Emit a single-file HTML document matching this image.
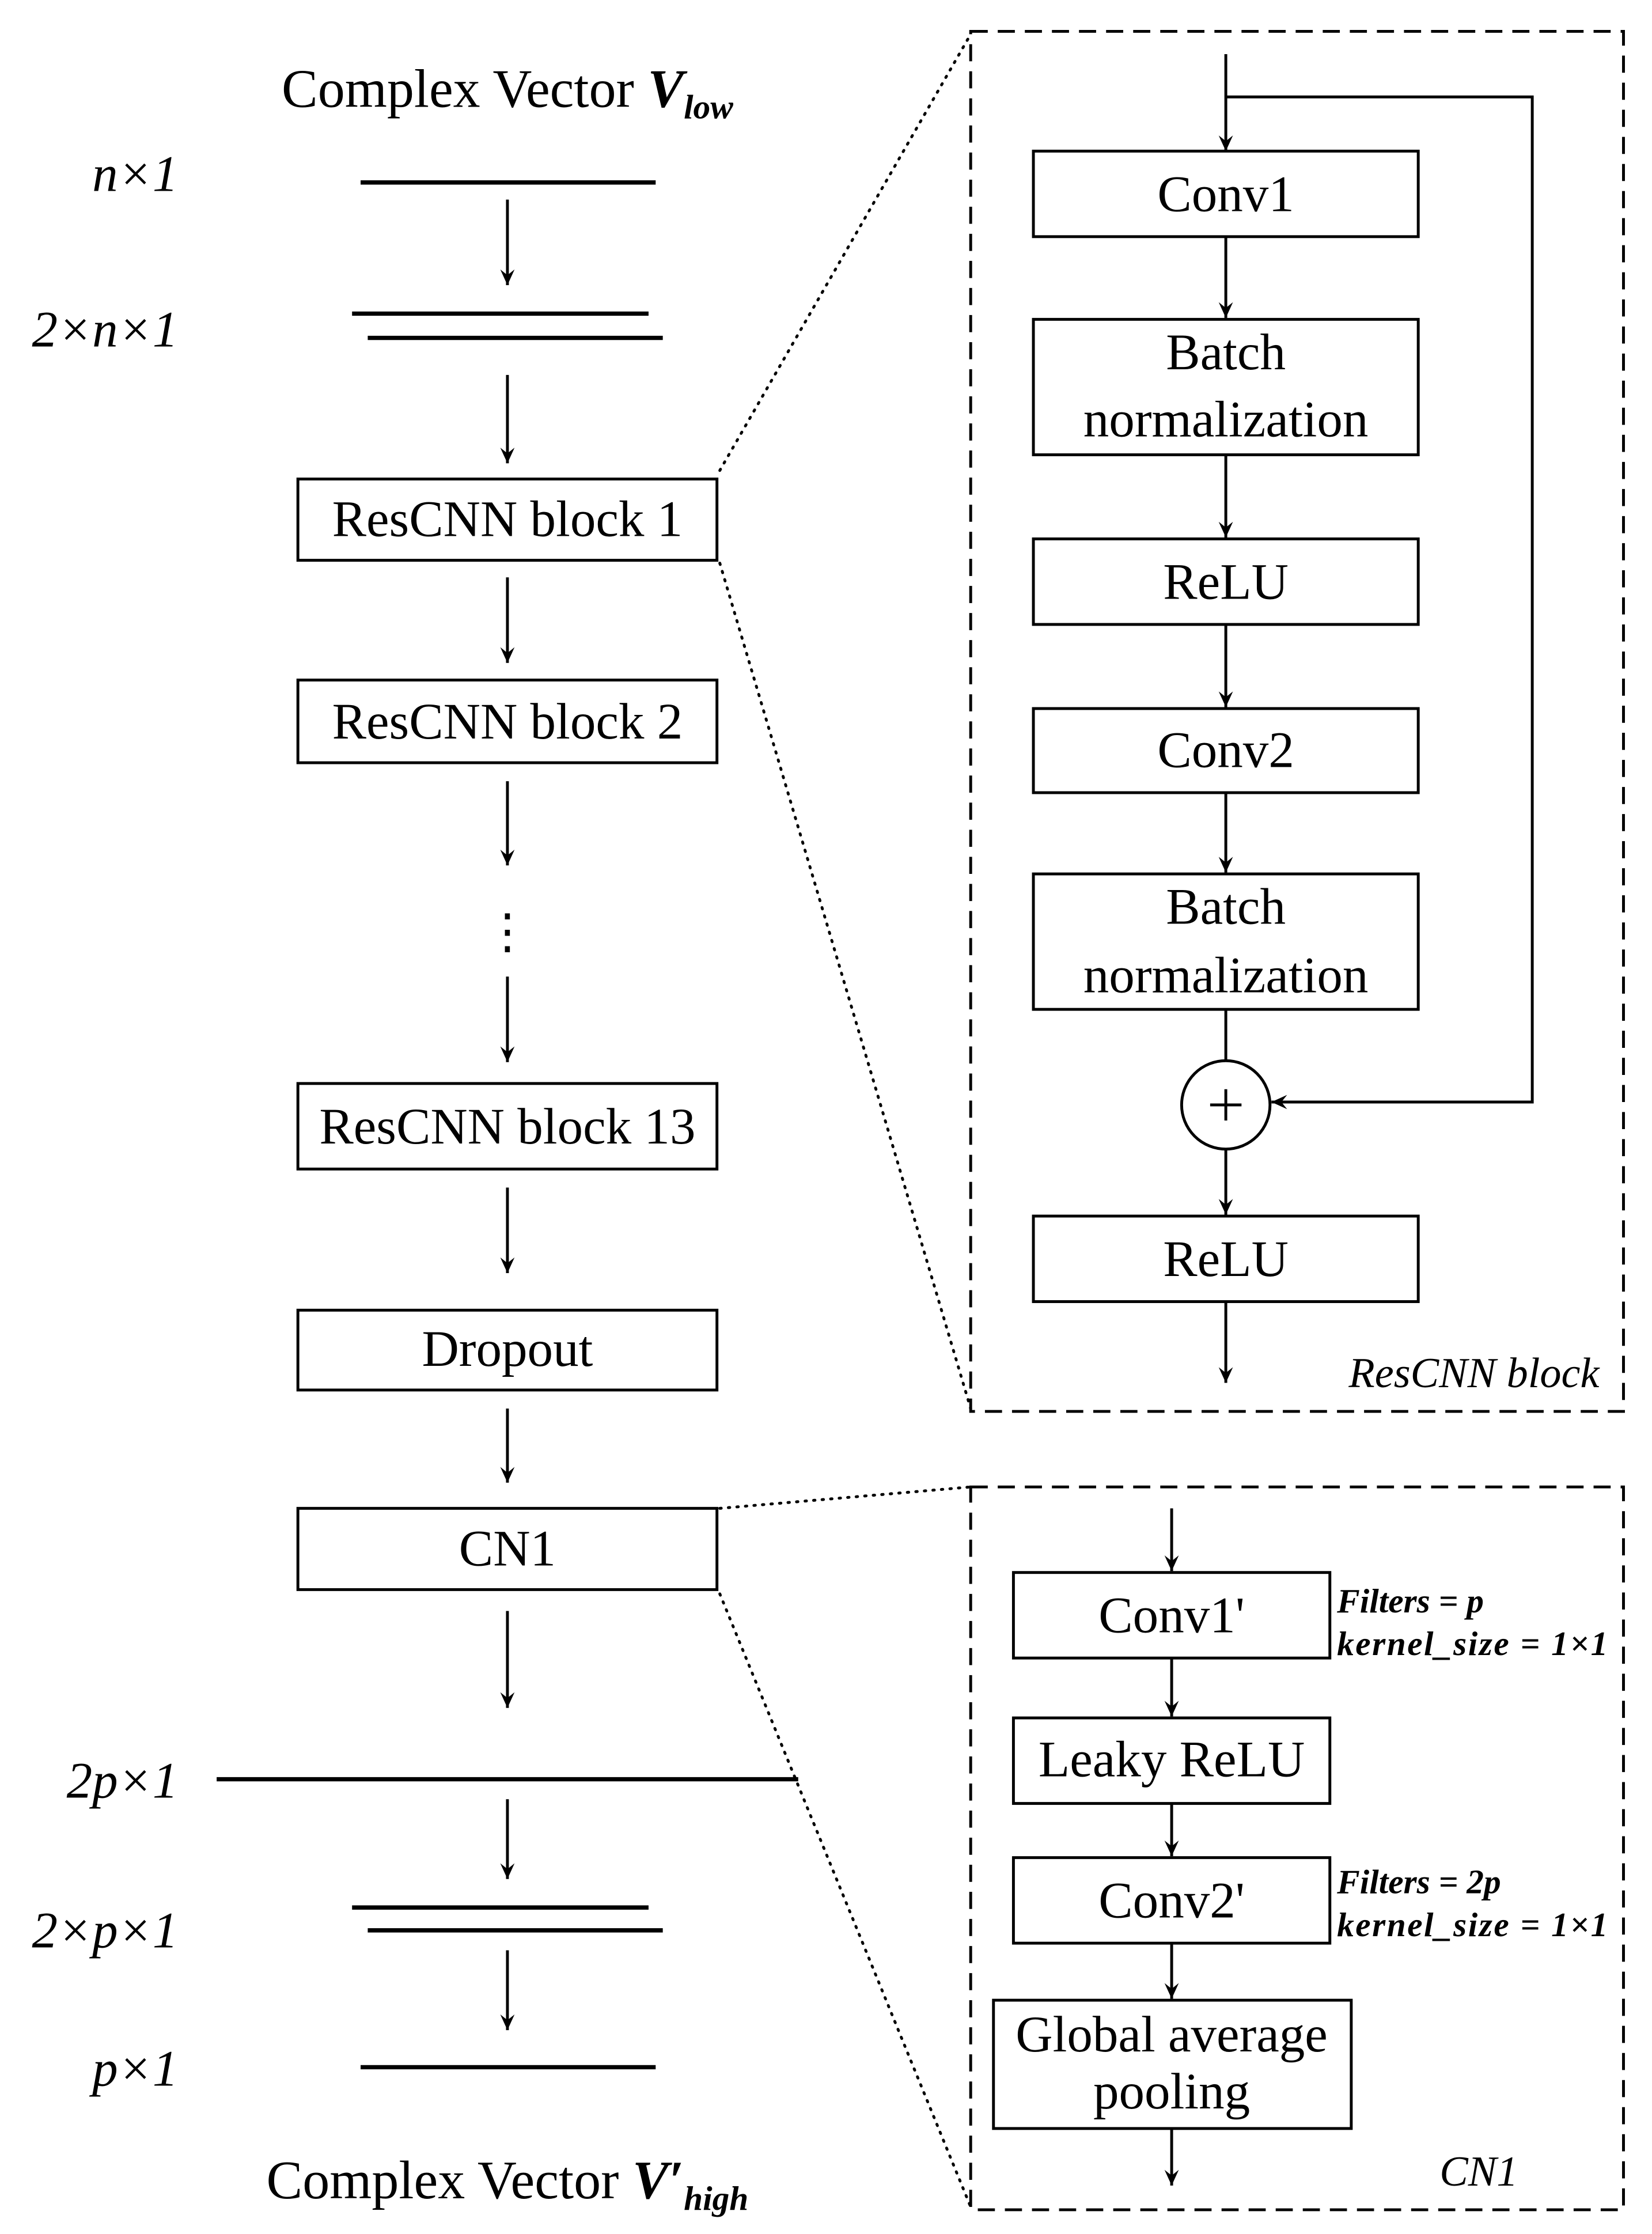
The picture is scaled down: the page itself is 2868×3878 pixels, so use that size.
<!DOCTYPE html>
<html><head><meta charset="utf-8"><style>
html,body{margin:0;padding:0;background:#fff;}
svg{display:block;}
text{font-family:"Liberation Serif",serif;fill:#000;}
</style></head><body>
<svg width="2868" height="3878" viewBox="0 0 1159 1567" preserveAspectRatio="none" xmlns="http://www.w3.org/2000/svg">
<defs>
<marker id="a" markerWidth="12" markerHeight="10" refX="11" refY="5" orient="auto" markerUnits="userSpaceOnUse">
<path d="M0,0 L11,5 L0,10 L4,5 Z" fill="#000"/>
</marker>
</defs>
<g stroke="#000" fill="none">
<line x1="253" y1="128" x2="460" y2="128" stroke-width="3"/>
<line x1="247" y1="220" x2="455" y2="220" stroke-width="3"/>
<line x1="258" y1="237" x2="465" y2="237" stroke-width="3"/>
<line x1="152" y1="1248" x2="560" y2="1248" stroke-width="3"/>
<line x1="247" y1="1338" x2="455" y2="1338" stroke-width="3"/>
<line x1="258" y1="1354" x2="465" y2="1354" stroke-width="3"/>
<line x1="253" y1="1450" x2="460" y2="1450" stroke-width="3"/>
<g stroke-width="2" marker-end="url(#a)">
<line x1="356" y1="140" x2="356" y2="200"/>
<line x1="356" y1="263" x2="356" y2="325"/>
<line x1="356" y1="405" x2="356" y2="465"/>
<line x1="356" y1="548" x2="356" y2="607"/>
<line x1="356" y1="685" x2="356" y2="745"/>
<line x1="356" y1="833" x2="356" y2="893"/>
<line x1="356" y1="988" x2="356" y2="1040"/>
<line x1="356" y1="1130" x2="356" y2="1198"/>
<line x1="356" y1="1262" x2="356" y2="1318"/>
<line x1="356" y1="1368" x2="356" y2="1424"/>
</g>
<g stroke-width="2">
<rect x="209" y="336" width="294" height="57"/>
<rect x="209" y="477" width="294" height="58"/>
<rect x="209" y="760" width="294" height="60"/>
<rect x="209" y="919" width="294" height="56"/>
<rect x="209" y="1058" width="294" height="57"/>
</g>
<g stroke-width="2" stroke-dasharray="1 5" stroke-linecap="round">
<line x1="505" y1="330" x2="681" y2="24"/>
<line x1="505" y1="395" x2="681" y2="988"/>
<line x1="505" y1="1058" x2="681" y2="1043"/>
<line x1="505" y1="1118" x2="681" y2="1548"/>
</g>
<g stroke-width="2" stroke-dasharray="12 7">
<rect x="681" y="22" width="458" height="968"/>
<rect x="681" y="1043" width="458" height="507"/>
</g>
<g stroke-width="2">
<rect x="725" y="106" width="270" height="60"/>
<rect x="725" y="224" width="270" height="95"/>
<rect x="725" y="378" width="270" height="60"/>
<rect x="725" y="497" width="270" height="59"/>
<rect x="725" y="613" width="270" height="95"/>
<rect x="725" y="853" width="270" height="60"/>
<circle cx="860" cy="775" r="31"/>
<line x1="849" y1="775" x2="871" y2="775"/>
<line x1="860" y1="764" x2="860" y2="786"/>
<polyline points="860,68 1075,68 1075,773 892,773" marker-end="url(#a)" />
<line x1="860" y1="708" x2="860" y2="744"/>
</g>
<g stroke-width="2" marker-end="url(#a)">
<line x1="860" y1="38" x2="860" y2="106"/>
<line x1="860" y1="166" x2="860" y2="223"/>
<line x1="860" y1="319" x2="860" y2="377"/>
<line x1="860" y1="438" x2="860" y2="496"/>
<line x1="860" y1="556" x2="860" y2="612"/>
<line x1="860" y1="806" x2="860" y2="852"/>
<line x1="860" y1="913" x2="860" y2="970"/>
</g>
<g stroke-width="2">
<rect x="711" y="1103" width="222" height="60"/>
<rect x="711" y="1205" width="222" height="60"/>
<rect x="711" y="1303" width="222" height="60"/>
<rect x="697" y="1403" width="251" height="90"/>
</g>
<g stroke-width="2" marker-end="url(#a)">
<line x1="822" y1="1058" x2="822" y2="1102"/>
<line x1="822" y1="1163" x2="822" y2="1204"/>
<line x1="822" y1="1265" x2="822" y2="1302"/>
<line x1="822" y1="1363" x2="822" y2="1402"/>
<line x1="822" y1="1493" x2="822" y2="1533"/>
</g>
</g>
<g font-size="36" text-anchor="middle">
<text x="356" y="75" font-size="38">Complex Vector <tspan font-style="italic" font-weight="bold">V</tspan><tspan font-style="italic" font-weight="bold" font-size="24" dy="8">low</tspan></text>
<text x="356" y="376">ResCNN block 1</text>
<text x="356" y="518">ResCNN block 2</text>
<text x="356" y="802">ResCNN block 13</text>
<text x="356" y="958">Dropout</text>
<text x="356" y="1098">CN1</text>
<text x="356" y="1542" font-size="38">Complex Vector <tspan font-style="italic" font-weight="bold">V′</tspan><tspan font-style="italic" font-weight="bold" font-size="24" dy="8">high</tspan></text>
<text x="356" y="665" font-size="34">⋮</text>
<text x="860" y="148">Conv1</text>
<text x="860" y="259">Batch</text>
<text x="860" y="306">normalization</text>
<text x="860" y="420">ReLU</text>
<text x="860" y="538">Conv2</text>
<text x="860" y="648">Batch</text>
<text x="860" y="696">normalization</text>
<text x="860" y="895">ReLU</text>
<text x="822" y="1145">Conv1'</text>
<text x="822" y="1246">Leaky ReLU</text>
<text x="822" y="1345">Conv2'</text>
<text x="822" y="1439">Global average</text>
<text x="822" y="1479">pooling</text>
</g>
<g font-size="36" font-style="italic" text-anchor="end">
<text x="125" y="134">n×1</text>
<text x="125" y="243">2×n×1</text>
<text x="125" y="1261">2p×1</text>
<text x="125" y="1366">2×p×1</text>
<text x="125" y="1463">p×1</text>
</g>
<g font-style="italic" font-size="30">
<text x="1122" y="973" text-anchor="end">ResCNN block</text>
<text x="1065" y="1533" text-anchor="end">CN1</text>
</g>
<g font-style="italic" font-weight="bold" font-size="24">
<text x="938" y="1131">Filters = p</text>
<text x="938" y="1161" textLength="190">kernel_size = 1×1</text>
<text x="938" y="1328">Filters = 2p</text>
<text x="938" y="1358" textLength="190">kernel_size = 1×1</text>
</g>
</svg>
</body></html>
